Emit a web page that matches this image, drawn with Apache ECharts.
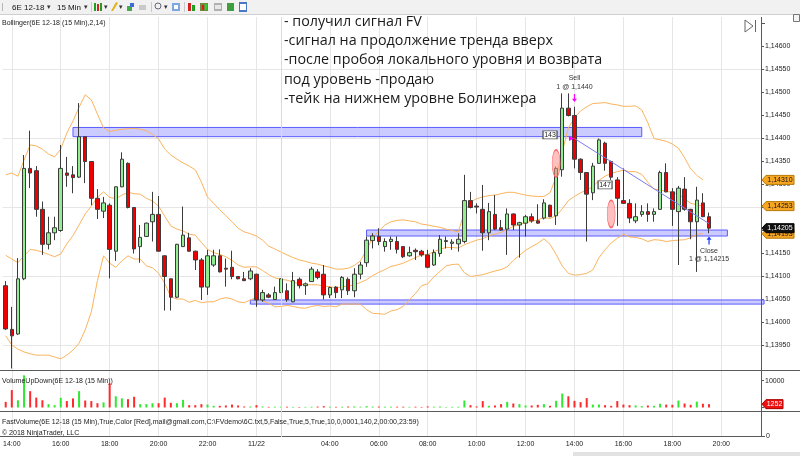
<!DOCTYPE html>
<html>
<head>
<meta charset="utf-8">
<title>6E 12-18 (15 Min)</title>
<script src="https://cdn.jsdelivr.net/npm/echarts@6.0.0/dist/echarts.min.js"></script>
<style>
  html, body { margin: 0; padding: 0; background: #fff; }
  #chart { width: 800px; height: 456px; }
</style>
</head>
<body>
<div id="chart"></div>
<script>
// ---- данные: 15-минутные бары 6E 12-18 ----
const openP = [
  1.14080,1.13985,1.13975,1.14095,1.14335,1.14330,1.14246,1.14170,1.14195,1.14200,
  1.14325,1.14321,1.14316,1.14404,1.14350,1.14270,1.14242,1.14255,1.14155,1.14295,
  1.14346,1.14250,1.14165,1.14187,1.14219,1.14235,1.14145,1.14095,1.14055,1.14165,
  1.14184,1.14155,1.14136,1.14077,1.14125,1.14145,1.14118,1.14120,1.14100,1.14095,
  1.14095,1.14105,1.14049,1.14060,1.14050,1.14065,1.14069,1.14045,1.14094,1.14080,
  1.14089,1.14110,1.14105,1.14060,1.14077,1.14071,1.14094,1.14069,1.14105,1.14130,
  1.14178,1.14187,1.14165,1.14176,1.14176,1.14165,1.14145,1.14157,1.14155,1.14147,
  1.14125,1.14150,1.14176,1.14172,1.14171,1.14176,1.14265,1.14253,1.14246,1.14195,
  1.14235,1.14206,1.14203,1.14236,1.14212,1.14216,1.14230,1.14221,1.14227,1.14255,
  1.14232,1.14332,1.14466,1.14450,1.14355,1.14326,1.14282,1.14346,1.14390,1.14350,
  1.14310,1.14265,1.14259,1.14221,1.14235,1.14241,1.14235,1.14246,1.14326,1.14284,
  1.14241,1.14290,1.14246,1.14219,1.14260,1.14230
];
const highP = [
  1.14090,1.14034,1.14140,1.14364,1.14417,1.14340,1.14263,1.14230,1.14230,1.14386,
  1.14360,1.14340,1.14477,1.14405,1.14351,1.14290,1.14273,1.14259,1.14296,1.14370,
  1.14348,1.14251,1.14212,1.14217,1.14284,1.14275,1.14146,1.14096,1.14171,1.14252,
  1.14195,1.14156,1.14140,1.14158,1.14158,1.14159,1.14139,1.14156,1.14101,1.14110,
  1.14118,1.14106,1.14071,1.14064,1.14078,1.14096,1.14085,1.14110,1.14098,1.14087,
  1.14121,1.14116,1.14125,1.14078,1.14079,1.14101,1.14098,1.14118,1.14132,1.14187,
  1.14194,1.14205,1.14183,1.14187,1.14187,1.14166,1.14165,1.14161,1.14158,1.14158,
  1.14159,1.14190,1.14187,1.14181,1.14194,1.14321,1.14284,1.14259,1.14299,1.14260,
  1.14277,1.14223,1.14248,1.14237,1.14219,1.14234,1.14237,1.14257,1.14268,1.14256,
  1.14339,1.14498,1.14498,1.14469,1.14357,1.14327,1.14347,1.14400,1.14393,1.14352,
  1.14316,1.14335,1.14268,1.14259,1.14255,1.14259,1.14248,1.14330,1.14346,1.14292,
  1.14297,1.14316,1.14247,1.14295,1.14281,1.14239
];
const lowP = [
  1.13984,1.13900,1.13973,1.14092,1.14292,1.14230,1.14147,1.14159,1.14179,1.14197,
  1.14295,1.14281,1.14314,1.14303,1.14255,1.14225,1.14227,1.14096,1.14134,1.14294,
  1.14248,1.14150,1.14130,1.14186,1.14176,1.14154,1.14026,1.14026,1.14053,1.14164,
  1.14154,1.14114,1.14049,1.14060,1.14121,1.14109,1.14078,1.14094,1.14094,1.14090,
  1.14092,1.14034,1.14045,1.14053,1.14049,1.14064,1.14045,1.14044,1.14074,1.14060,
  1.14088,1.14094,1.14050,1.14053,1.14053,1.14053,1.14060,1.14055,1.14094,1.14121,
  1.14161,1.14168,1.14154,1.14158,1.14150,1.14140,1.14143,1.14136,1.14143,1.14118,
  1.14123,1.14143,1.14161,1.14158,1.14154,1.14172,1.14248,1.14237,1.14156,1.14179,
  1.14201,1.14200,1.14147,1.14201,1.14141,1.14187,1.14217,1.14215,1.14224,1.14229,
  1.14212,1.14317,1.14448,1.14335,1.14310,1.14176,1.14266,1.14345,1.14330,1.14310,
  1.14210,1.14258,1.14216,1.14216,1.14230,1.14219,1.14219,1.14245,1.14283,1.14210,
  1.14125,1.14243,1.14181,1.14110,1.14229,1.14194
];
const closeP = [
  1.13986,1.13971,1.14095,1.14335,1.14325,1.14246,1.14170,1.14195,1.14206,1.14335,
  1.14320,1.14315,1.14404,1.14350,1.14270,1.14246,1.14260,1.14159,1.14295,1.14355,
  1.14250,1.14160,1.14185,1.14216,1.14235,1.14155,1.14100,1.14055,1.14170,1.14190,
  1.14155,1.14136,1.14077,1.14145,1.14145,1.14110,1.14116,1.14100,1.14095,1.14091,
  1.14112,1.14049,1.14065,1.14055,1.14065,1.14095,1.14050,1.14091,1.14080,1.14084,
  1.14116,1.14098,1.14060,1.14076,1.14065,1.14098,1.14069,1.14105,1.14125,1.14179,
  1.14188,1.14176,1.14176,1.14181,1.14159,1.14143,1.14152,1.14154,1.14147,1.14120,
  1.14152,1.14181,1.14178,1.14175,1.14181,1.14265,1.14250,1.14251,1.14195,1.14241,
  1.14203,1.14201,1.14236,1.14212,1.14217,1.14230,1.14221,1.14216,1.14260,1.14230,
  1.14335,1.14466,1.14450,1.14355,1.14326,1.14279,1.14340,1.14397,1.14346,1.14316,
  1.14270,1.14259,1.14227,1.14230,1.14241,1.14235,1.14241,1.14326,1.14284,1.14246,
  1.14292,1.14246,1.14219,1.14266,1.14230,1.14205
];

// Bollinger (14, 2)
const bbUpper = [
  1.14321,1.14325,1.14318,1.14353,1.14386,1.14384,1.14377,1.14366,1.14360,1.14377,
  1.14412,1.14438,1.14468,1.14495,1.14484,1.14453,1.14423,1.14415,1.14418,1.14420,
  1.14421,1.14422,1.14420,1.14417,1.14409,1.14399,1.14377,1.14364,1.14355,1.14347,
  1.14340,1.14332,1.14305,1.14273,1.14259,1.14245,1.14232,1.14219,1.14205,1.14197,
  1.14193,1.14188,1.14179,1.14166,1.14160,1.14153,1.14147,1.14141,1.14136,1.14133,
  1.14129,1.14127,1.14123,1.14120,1.14116,1.14116,1.14118,1.14124,1.14134,1.14158,
  1.14184,1.14199,1.14212,1.14219,1.14222,1.14223,1.14221,1.14219,1.14214,1.14212,
  1.14209,1.14207,1.14203,1.14200,1.14197,1.14240,1.14262,1.14269,1.14273,1.14276,
  1.14277,1.14280,1.14283,1.14283,1.14280,1.14277,1.14275,1.14274,1.14274,1.14282,
  1.14316,1.14371,1.14423,1.14445,1.14460,1.14469,1.14476,1.14477,1.14478,1.14475,
  1.14473,1.14470,1.14470,1.14471,1.14462,1.14434,1.14400,1.14397,1.14394,1.14388,
  1.14379,1.14358,1.14334,1.14320,1.14310,null
];
const bbMiddle = [
  1.14146,1.14138,1.14130,1.14145,1.14159,1.14157,1.14153,1.14148,1.14143,1.14149,
  1.14171,1.14189,1.14212,1.14236,1.14253,1.14272,1.14284,1.14272,1.14269,1.14277,
  1.14283,1.14280,1.14279,1.14270,1.14264,1.14253,1.14231,1.14210,1.14203,1.14199,
  1.14192,1.14190,1.14174,1.14159,1.14152,1.14148,1.14143,1.14135,1.14125,1.14120,
  1.14121,1.14121,1.14113,1.14104,1.14097,1.14094,1.14092,1.14088,1.14084,1.14082,
  1.14082,1.14082,1.14079,1.14078,1.14075,1.14078,1.14079,1.14082,1.14087,1.14093,
  1.14102,1.14109,1.14115,1.14122,1.14125,1.14129,1.14135,1.14141,1.14147,1.14148,
  1.14154,1.14159,1.14163,1.14163,1.14162,1.14169,1.14174,1.14179,1.14182,1.14189,
  1.14192,1.14196,1.14202,1.14209,1.14213,1.14217,1.14220,1.14223,1.14228,1.14226,
  1.14232,1.14247,1.14265,1.14274,1.14282,1.14288,1.14295,1.14309,1.14318,1.14324,
  1.14328,1.14331,1.14328,1.14328,1.14322,1.14305,1.14290,1.14288,1.14285,1.14283,
  1.14279,1.14269,1.14259,1.14256,1.14253,null
];
const bbLower = [
  1.13971,1.13951,1.13942,1.13936,1.13932,1.13929,1.13929,1.13929,1.13925,1.13921,
  1.13929,1.13940,1.13955,1.13984,1.14023,1.14091,1.14145,1.14129,1.14120,1.14134,
  1.14145,1.14138,1.14138,1.14123,1.14119,1.14107,1.14085,1.14056,1.14051,1.14051,
  1.14044,1.14048,1.14043,1.14045,1.14045,1.14051,1.14054,1.14051,1.14045,1.14043,
  1.14049,1.14054,1.14047,1.14042,1.14034,1.14035,1.14037,1.14035,1.14032,1.14031,
  1.14035,1.14037,1.14035,1.14036,1.14034,1.14040,1.14040,1.14040,1.14040,1.14028,
  1.14020,1.14019,1.14018,1.14025,1.14028,1.14035,1.14049,1.14063,1.14080,1.14084,
  1.14099,1.14111,1.14123,1.14126,1.14127,1.14108,1.14100,1.14102,1.14104,1.14108,
  1.14112,1.14115,1.14121,1.14135,1.14146,1.14157,1.14165,1.14172,1.14182,1.14170,
  1.14148,1.14123,1.14107,1.14103,1.14104,1.14107,1.14114,1.14141,1.14158,1.14173,
  1.14183,1.14192,1.14186,1.14185,1.14182,1.14176,1.14180,1.14179,1.14176,1.14178,
  1.14179,1.14180,1.14184,1.14192,1.14193,null
];

// VolumeUpDown
const volume = [
  2100,6500,2700,12000,6100,3700,2700,1250,870,3600,
  2400,3400,6100,2600,2400,1600,1900,9000,4200,3400,
  3100,4000,1250,1250,1600,1600,3700,1750,1600,2850,
  870,870,1250,1100,620,620,750,1100,750,370,
  370,870,370,250,300,300,300,250,200,250,
  300,350,500,300,250,300,350,400,300,500,
  350,350,300,300,300,300,250,300,200,400,
  300,350,200,250,300,2600,870,400,2400,620,
  750,1250,2100,1500,1250,750,750,1000,1250,620,
  2500,5200,4200,2500,2000,3500,1100,1100,870,620,
  2400,1100,870,750,500,750,620,1400,1100,1000,
  2600,1500,1000,2200,1400,1252
];

// ось времени (индекс бара -> подпись)
const tickIdx  = [1, 9, 17, 25, 33, 41, 53, 61, 69, 77, 85, 93, 101, 109, 117];
const tickText = ['14:00','16:00','18:00','20:00','22:00','11/22','04:00','06:00','08:00','10:00','12:00','14:00','16:00','18:00','20:00'];
const sessionBreakIdx = 45;

// уровни (нарисованные прямоугольники): [бар от, бар до, цена низ, цена верх]
const zones = [
  [11, 104, 1.14404, 1.14424],
  [59, 118, 1.14188, 1.14201],
  [40, 124, 1.14040, 1.14049]
];
// сигналы FastVolume
const signalIdx   = [89, 98];
const signalPrice = [1.14408, 1.14299];
const signalText  = ['143', '147'];
const ellipseIdx   = [90, 99];
const ellipsePrice = [1.14346, 1.14236];
// сделка
const tradeIdx    = [93, 115];
const tradePrice  = [1.14400, 1.14215];
const tradeMarkPrice = [1.14488, 1.14178];
const tradeText   = ['Sell\n1 @ 1,1440', 'Close\n1 @ 1,14215'];

const notes = [
  '- получил сигнал FV',
  '-сигнал на продолжение тренда вверх',
  '-после пробоя локального уровня и возврата',
  'под уровень -продаю',
  '-тейк на нижнем уровне Болинжера'
];

// ---- график ----
const chart = echarts.init(document.getElementById('chart'));
const FONT = '"Liberation Sans", Arial, sans-serif';
const N_CATS = 125;
const cats = Array.from({ length: N_CATS }, (_, i) => String(i));
const fmtPrice = v => v.toFixed(5).replace('.', ',');
const isTick = i => tickIdx.indexOf(i) >= 0;
const ARROW = 'path://M3,0 L5,0 L5,6 L8,6 L4,10 L0,6 L3,6 Z';

const candles = openP.map((o, i) => [o, closeP[i], lowP[i], highP[i]]);
const volBars = volume.map((v, i) => ({
  value: v,
  itemStyle: { color: closeP[i] >= openP[i] ? '#2fe82f' : '#ff2a2a' }
}));

// 125 категорий по 6.116 px: центр бара 0 на x=5.7, ось цены сдвинута к x=761
const option = {
  animation: false,
  backgroundColor: '#fff',
  textStyle: { fontFamily: FONT },
  grid: [
    { left: 2.64, right: 32.87, top: 46.5, bottom: 110.5 },
    { left: 2.64, right: 32.87, top: 380.7, bottom: 48.5 },
    { left: 5.7, right: 35.93, top: 17, bottom: 19 }
  ],
  xAxis: [
    { type: 'category', gridIndex: 0, data: cats, show: false },
    { type: 'category', gridIndex: 1, data: cats, show: false },
    {
      type: 'category', gridIndex: 2, data: cats, boundaryGap: false,
      axisLine: { show: false }, axisTick: { show: false },
      axisLabel: {
        interval: (i) => isTick(i),
        formatter: (v) => tickText[tickIdx.indexOf(Number(v))] || '',
        fontSize: 7, color: '#222', margin: 4, fontFamily: FONT
      },
      splitLine: { show: true, interval: (i) => isTick(i), lineStyle: { color: '#e6e6e6', width: 1 } }
    }
  ],
  yAxis: [
    {
      type: 'value', gridIndex: 0, position: 'right', offset: -6.116,
      min: 1.1395, max: 1.146, interval: 0.0005,
      axisLine: { show: false },
      axisTick: { show: true, length: 3, lineStyle: { color: '#555' } },
      axisLabel: { formatter: fmtPrice, fontSize: 7, color: '#222', margin: 4, fontFamily: FONT },
      splitLine: { show: false }
    },
    {
      type: 'value', gridIndex: 0, position: 'left',
      min: 1.1395, max: 1.146, interval: 0.0015,
      axisLine: { show: false }, axisTick: { show: false }, axisLabel: { show: false },
      splitLine: { show: true, showMaxLine: false, lineStyle: { color: '#e6e6e6' } }
    },
    {
      type: 'value', gridIndex: 1, position: 'right', offset: -6.116,
      min: 0, max: 10000, interval: 10000,
      axisLine: { show: false },
      axisTick: { show: true, length: 3, lineStyle: { color: '#555' } },
      axisLabel: { formatter: (v) => String(v), fontSize: 7, color: '#222', margin: 4, fontFamily: FONT },
      splitLine: { show: false }
    },
    { type: 'value', gridIndex: 2, show: false, min: 0, max: 1 }
  ],
  series: [
    {
      type: 'candlestick', xAxisIndex: 0, yAxisIndex: 0,
      data: candles, barWidth: 4, clip: false, z: 4,
      itemStyle: {
        color: '#90ee90', color0: '#ee0000',
        borderColor: '#3c3c3c', borderColor0: '#3c3c3c', borderWidth: 1
      },
      markArea: {
        silent: true,
        itemStyle: { color: 'rgba(105,105,255,0.35)', borderColor: '#5b5bff', borderWidth: 1 },
        data: zones.map(z => [{ xAxis: z[0], yAxis: z[3] }, { xAxis: z[1], yAxis: z[2] }])
      },
      markPoint: {
        silent: true,
        data: [
          ...signalIdx.map((idx, k) => ({
            coord: [idx, signalPrice[k]], symbol: 'rect', symbolSize: [14, 8],
            itemStyle: { color: '#fff', borderColor: '#555', borderWidth: 1 },
            label: { show: true, position: 'inside', formatter: signalText[k], fontSize: 7, color: '#222', fontFamily: FONT }
          })),
          ...ellipseIdx.map((idx, k) => ({
            coord: [idx, ellipsePrice[k]], symbol: 'circle', symbolSize: [8, 27],
            itemStyle: { color: 'rgba(255,140,140,0.55)', borderColor: '#ff6868', borderWidth: 1 },
            label: { show: false }
          })),
          {
            coord: [tradeIdx[0], tradeMarkPrice[0]], symbol: ARROW, symbolSize: [5, 8],
            itemStyle: { color: '#ff00ff' },
            label: { show: true, position: 'top', distance: 3, formatter: tradeText[0], fontSize: 7, lineHeight: 8.5, color: '#333', fontFamily: FONT }
          },
          {
            coord: [tradeIdx[1], tradeMarkPrice[1]], symbol: ARROW, symbolRotate: 180, symbolSize: [5, 8],
            itemStyle: { color: '#1a3cff' },
            label: { show: true, position: 'bottom', distance: 2, formatter: tradeText[1], fontSize: 7, lineHeight: 8.5, color: '#333', fontFamily: FONT }
          },
          {
            coord: [tradeIdx[0], tradePrice[0]], symbol: 'triangle', symbolRotate: -90, symbolSize: 5,
            symbolOffset: [-3, 0], itemStyle: { color: '#ff00ff' }, label: { show: false }
          }
        ]
      }
    },
    { type: 'line', xAxisIndex: 0, yAxisIndex: 0, data: bbUpper, symbol: 'none', clip: false, z: 3,
      lineStyle: { color: '#fbb45e', width: 1 } },
    { type: 'line', xAxisIndex: 0, yAxisIndex: 0, data: bbMiddle, symbol: 'none', clip: false, z: 3,
      lineStyle: { color: '#fbb45e', width: 1 } },
    { type: 'line', xAxisIndex: 0, yAxisIndex: 0, data: bbLower, symbol: 'none', clip: false, z: 3,
      lineStyle: { color: '#fbb45e', width: 1 } },
    { type: 'line', xAxisIndex: 0, yAxisIndex: 0, symbol: 'none', z: 5,
      data: [[tradeIdx[0], tradePrice[0]], [tradeIdx[1], tradePrice[1]]],
      lineStyle: { color: '#7c7cf0', width: 1 } },
    { type: 'bar', xAxisIndex: 1, yAxisIndex: 2, data: volBars, barWidth: 2, clip: false }
  ]
};
chart.setOption(option);

// ---- надписи, панели, ценовые метки ----
function tag(y, text, fill, stroke, color, xEnd) {
  return [
    { type: 'polygon', z: 120,
      shape: { points: [[762, y], [766, y - 4.5], [xEnd, y - 4.5], [xEnd, y + 4.5], [766, y + 4.5]] },
      style: { fill: fill, stroke: stroke, lineWidth: 1 } },
    { type: 'text', z: 121, x: (766 + xEnd) / 2, y: y,
      style: { text: text, font: '7px ' + FONT, fill: color, align: 'center', verticalAlign: 'middle' } }
  ];
}
function txt(x, y, text, font, fill, align) {
  return { type: 'text', z: 110, x: x, y: y,
    style: { text: text, font: font, fill: fill || '#222', align: align || 'left', verticalAlign: 'middle' } };
}
function line(x1, y1, x2, y2, stroke) {
  return { type: 'line', z: 105, shape: { x1: x1, y1: y1, x2: x2, y2: y2 }, style: { stroke: stroke, lineWidth: 1 } };
}
function box(x, y, w, h, fill) {
  return { type: 'rect', z: 111, shape: { x: x, y: y, width: w, height: h }, style: { fill: fill } };
}

const py = v => chart.convertToPixel({ yAxisIndex: 0 }, v);
const vy = v => chart.convertToPixel({ yAxisIndex: 2 }, v);
const breakX = Math.round(chart.convertToPixel({ xAxisIndex: 2 }, sessionBreakIdx)) + 0.5;
const last = bbUpper.length - 2;

const g = [
  // панель инструментов
  { type: 'rect', z: 100, shape: { x: 0, y: 0, width: 800, height: 14 }, style: { fill: '#f1f1f1' } },
  line(0, 14.5, 800, 14.5, '#cfcfcf'),
  box(2, 3, 1, 8, '#b8b8b8'),
  txt(12, 7.5, '6E 12-18', '8px ' + FONT, '#111'),
  txt(49, 7.5, '▾', '7px ' + FONT, '#333', 'center'),
  txt(57, 7.5, '15 Min', '8px ' + FONT, '#111'),
  txt(86, 7.5, '▾', '7px ' + FONT, '#333', 'center'),
  line(91.5, 2, 91.5, 12, '#c8c8c8'),
  box(94, 3, 2, 8, '#1f9e1f'), box(97, 4, 2, 7, '#d42020'), box(100, 3, 2, 8, '#1f9e1f'),
  txt(106, 7.5, '▾', '7px ' + FONT, '#333', 'center'),
  { type: 'polygon', z: 111, shape: { points: [[111, 11], [113, 11], [118, 3], [116, 2]] }, style: { fill: '#e3b21c' } },
  txt(121, 7.5, '▾', '7px ' + FONT, '#333', 'center'),
  box(127, 6, 5, 5, '#4aa84a'), box(130, 3, 4, 4, '#3a6fd8'),
  box(139, 5, 7, 5, '#c9c9c9'),
  line(151.5, 2, 151.5, 12, '#c8c8c8'),
  { type: 'circle', z: 111, shape: { cx: 158, cy: 6, r: 3 }, style: { fill: 'none', stroke: '#667', lineWidth: 1 } },
  txt(166, 7.5, '▾', '7px ' + FONT, '#333', 'center'),
  box(172, 3, 8, 8, '#7da7e0'), box(174, 5, 4, 4, '#ffffff'),
  line(184.5, 2, 184.5, 12, '#c8c8c8'),
  box(188, 3, 3, 8, '#d42020'), box(192, 5, 3, 6, '#1f9e1f'),
  box(200, 3, 8, 8, '#6f8a3a'), box(202, 5, 2, 5, '#d42020'), box(205, 4, 2, 6, '#2fcf2f'),
  box(214, 3, 8, 8, '#b0b0b0'), box(215, 5, 6, 4, '#e8e8e8'),
  box(227, 3, 7, 8, '#3f9f3f'), txt(230.5, 7.5, '$', '6px ' + FONT, '#fff', 'center'),
  box(239, 2, 8, 10, '#4a78c8'), box(240, 4, 6, 6, '#ffffff'),

  // подписи индикаторов
  txt(2, 23, 'Bollinger(6E 12-18 (15 Min),2,14)', '7px ' + FONT),
  txt(2, 381, 'VolumeUpDown(6E 12-18 (15 Min))', '7px ' + FONT),
  txt(2, 422, 'FastVolume(6E 12-18 (15 Min),True,Color [Red],mail@gmail.com,C:\\FVdemo\\6C.txt,5,False,True,5,True,10,0,0001,140,2,00:00,23:59)', '7px ' + FONT),
  txt(2, 433.5, '© 2018 NinjaTrader, LLC', '7px ' + FONT),

  // разделители панелей и ось цены
  line(0, 370.5, 800, 370.5, '#5a5a5a'),
  line(0, 411.5, 800, 411.5, '#5a5a5a'),
  line(0, 436.5, 762, 436.5, '#5a5a5a'),
  line(761.5, 17, 761.5, 437, '#5a5a5a'),
  line(breakX, 17, breakX, 437, '#dadada'),
  line(762, 436.5, 765, 436.5, '#555'),
  txt(766, 436.5, '0', '7px ' + FONT),
  line(762, 23.5, 765, 23.5, '#555'),

  // кнопки справа вверху
  { type: 'polygon', z: 111, shape: { points: [[745, 20], [753, 26], [745, 32]] }, style: { fill: 'none', stroke: '#666', lineWidth: 1 } },
  line(755.5, 20, 755.5, 32, '#666'),
  { type: 'rect', z: 111, shape: { x: 793.5, y: 14.5, width: 6, height: 7 }, style: { fill: '#f4f4f4', stroke: '#777', lineWidth: 1 } },
  txt(796.5, 18, 'F', '6px ' + FONT, '#333', 'center'),

  // полоса прокрутки
  box(573, 452, 227, 4, '#e2e2e2')
];

// комментарий
notes.forEach((s, k) => g.push(txt(284, 21.7 + k * 19.3, s, '14.3px "Open Sans", "Noto Sans", sans-serif', '#1a1a1a')));

// ценовые метки справа
g.push(...tag(py(bbLower[last]), fmtPrice(bbLower[last]), '#f6a623', '#b87800', '#111', 794));
g.push(...tag(py(bbUpper[last]), fmtPrice(bbUpper[last]), '#f6a623', '#b87800', '#111', 794));
g.push(...tag(py(bbMiddle[last]), fmtPrice(bbMiddle[last]), '#f6a623', '#b87800', '#111', 794));
g.push(...tag(py(closeP[closeP.length - 1]), fmtPrice(closeP[closeP.length - 1]), '#111', '#000', '#fff', 794));
g.push(...tag(vy(volume[volume.length - 1]), String(volume[volume.length - 1]), '#ee1111', '#aa0000', '#fff', 783));

chart.setOption({ graphic: g });
</script>
</body>
</html>
